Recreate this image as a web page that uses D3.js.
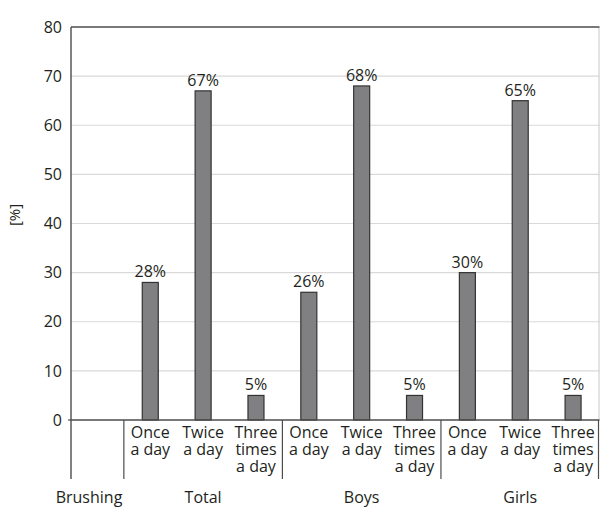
<!DOCTYPE html>
<html><head><meta charset="utf-8">
<script src="https://cdn.jsdelivr.net/npm/d3@7"></script>
<style>body{margin:0;background:#fff;} text{font-family:"Open Sans",sans-serif;fill:#231f20;}</style>
</head><body>
<svg id="c" width="600" height="507"></svg>
<script>
const groups = ["Total", "Boys", "Girls"];
const frequencies = ["Once a day", "Twice a day", "Three times a day"];
const frequencyLines = [["Once", "a day"], ["Twice", "a day"], ["Three", "times", "a day"]];
const totalValues = [28, 67, 5];
const boysValues = [26, 68, 5];
const girlsValues = [30, 65, 5];
const yTicks = [0, 10, 20, 30, 40, 50, 60, 70, 80];
const rowLabel = "Brushing";
const yLabel = "[%]";

(function() {
const seriesValues = [totalValues, boysValues, girlsValues];
const data = [];
groups.forEach((g, gi) => frequencies.forEach((f, fi) => {
  data.push({key: g + "|" + f, group: g, fi, value: seriesValues[gi][fi]});
}));

const svg = d3.select("#c");
const pLeft = 71, pRight = 599.5, pTop = 27, pBottom = 420, catBottom = 479;
const fs = 16;
const keys = ["__row"].concat(data.map(d => d.key));
const x = d3.scaleBand().domain(keys).range([pLeft, pRight]).padding(0);
const y = d3.scaleLinear().domain([0, 80]).range([pBottom, pTop]);
const barW = 16;

// gridlines
svg.append("g").selectAll("line").data(yTicks.filter(t => t > 0 && t < 80)).join("line")
  .attr("x1", pLeft).attr("x2", pRight).attr("y1", d => y(d)).attr("y2", d => y(d))
  .attr("stroke", "#d9d9d9").attr("stroke-width", 1.2);
// right border
svg.append("line").attr("x1", pRight - 0.5).attr("x2", pRight - 0.5).attr("y1", pTop).attr("y2", pBottom)
  .attr("stroke", "#d0d0d0").attr("stroke-width", 1.2);
// top border
svg.append("line").attr("x1", pLeft).attr("x2", pRight).attr("y1", y(80)).attr("y2", y(80))
  .attr("stroke", "#4d4d4d").attr("stroke-width", 1.3);

// bars
svg.append("g").selectAll("rect").data(data).join("rect")
  .attr("x", d => x(d.key) + x.bandwidth() / 2 - barW / 2)
  .attr("width", barW)
  .attr("y", d => y(d.value))
  .attr("height", d => y(0) - y(d.value))
  .attr("fill", "#808083").attr("stroke", "#333333").attr("stroke-width", 1.2);

// value labels
svg.append("g").selectAll("text").data(data).join("text")
  .attr("x", d => x(d.key) + x.bandwidth() / 2)
  .attr("y", d => y(d.value) - 5)
  .attr("text-anchor", "middle").attr("font-size", fs)
  .text(d => d.value + "%");

// y axis
const yAxis = d3.axisLeft(y).tickValues(yTicks).tickSize(0).tickPadding(9);
const ya = svg.append("g").attr("transform", `translate(${pLeft},0)`).call(yAxis);
ya.select(".domain").remove();
ya.selectAll("text").attr("font-size", fs).attr("font-family", "Open Sans, sans-serif").attr("fill", "#231f20");
svg.append("line").attr("x1", pLeft).attr("x2", pLeft).attr("y1", pTop).attr("y2", catBottom)
  .attr("stroke", "#4d4d4d").attr("stroke-width", 1.4);
svg.append("line").attr("x1", pLeft - 3).attr("x2", pLeft).attr("y1", pBottom).attr("y2", pBottom)
  .attr("stroke", "#4d4d4d").attr("stroke-width", 1.2);

// baseline
svg.append("line").attr("x1", pLeft).attr("x2", pRight).attr("y1", pBottom).attr("y2", pBottom)
  .attr("stroke", "#4d4d4d").attr("stroke-width", 1.3);

// group separators
const sepX = groups.map(g => x(g + "|" + frequencies[0])).concat([pRight - 1]);
svg.append("g").selectAll("line").data(sepX).join("line")
  .attr("x1", d => d).attr("x2", d => d).attr("y1", pBottom).attr("y2", catBottom)
  .attr("stroke", "#4d4d4d").attr("stroke-width", 1.2);

// category labels
const cat = svg.append("g").selectAll("text").data(data).join("text")
  .attr("text-anchor", "middle").attr("font-size", fs);
cat.each(function(d) {
  const t = d3.select(this);
  frequencyLines[d.fi].forEach((ln, i) => {
    t.append("tspan").attr("x", x(d.key) + x.bandwidth() / 2).attr("y", 438 + i * 17).text(ln);
  });
});

// group labels
svg.append("g").selectAll("text").data(groups).join("text")
  .attr("x", g => x(g + "|" + frequencies[1]) + x.bandwidth() / 2)
  .attr("y", 503).attr("text-anchor", "middle").attr("font-size", fs)
  .text(g => g);
svg.append("text").attr("x", 89).attr("y", 503).attr("text-anchor", "middle").attr("font-size", fs).text(rowLabel);

// y label
svg.append("text").attr("transform", "translate(20,215) rotate(-90)")
  .attr("text-anchor", "middle").attr("font-size", 15).text(yLabel);
})();
</script>
</body></html>
